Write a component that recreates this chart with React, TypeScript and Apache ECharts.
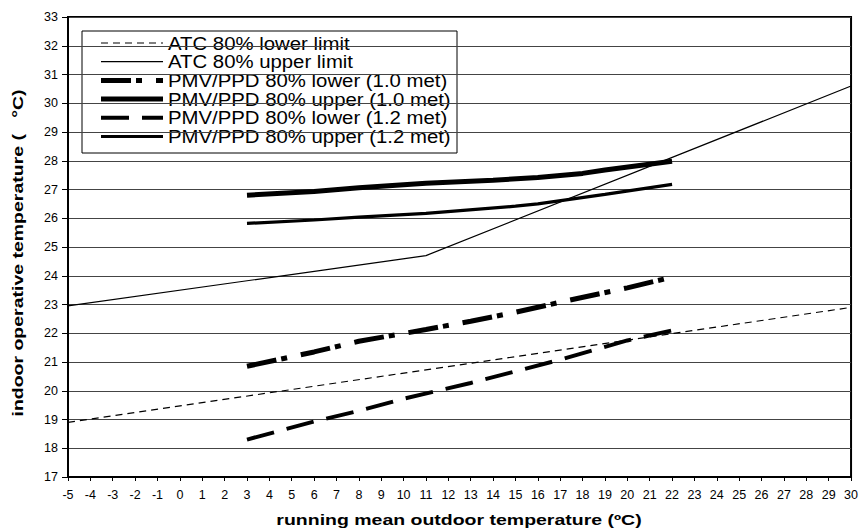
import React, { useEffect, useRef } from "react";
import * as echarts from "echarts";

const FONT = 'Arial, "Liberation Sans", sans-serif';

const seriesNames = [
  "ATC 80% lower limit",
  "ATC 80% upper limit",
  "PMV/PPD 80% lower (1.0 met)",
  "PMV/PPD 80% upper (1.0 met)",
  "PMV/PPD 80% lower (1.2 met)",
  "PMV/PPD 80% upper (1.2 met)",
];

const xTitle = "running mean outdoor temperature (ºC)";
const yTitle = "indoor operative temperature (   °C)";

const atcLowerX = [-5, 30];
const atcLowerY = [18.9, 22.9];
const atcUpperX = [-5, 11, 30];
const atcUpperY = [22.95, 24.7, 30.6];
const pmvLower10X = [3, 6, 8, 11, 13, 15, 17, 20, 22];
const pmvLower10Y = [20.85, 21.35, 21.72, 22.13, 22.42, 22.73, 23.08, 23.58, 23.95];
const pmvUpper10X = [3, 6, 8, 11, 14, 16, 18, 19, 22];
const pmvUpper10Y = [26.8, 26.93, 27.06, 27.22, 27.32, 27.42, 27.56, 27.68, 27.98];
const pmvLower12X = [3, 6, 8, 10, 13, 17, 20, 22];
const pmvLower12Y = [18.3, 18.93, 19.3, 19.72, 20.27, 21.08, 21.75, 22.1];
const pmvUpper12X = [3, 6, 8, 11, 15, 16, 19, 22];
const pmvUpper12Y = [25.82, 25.94, 26.04, 26.17, 26.42, 26.5, 26.83, 27.18];

const xs = [atcLowerX, atcUpperX, pmvLower10X, pmvUpper10X, pmvLower12X, pmvUpper12X];
const ys = [atcLowerY, atcUpperY, pmvLower10Y, pmvUpper10Y, pmvLower12Y, pmvUpper12Y];

const lineStyles: any[] = [
  { width: 1.2, type: [7, 5] },
  { width: 1.2, type: "solid" },
  { width: 5, type: [30, 5, 6, 14] },
  { width: 5, type: "solid" },
  { width: 4, type: [28, 13] },
  { width: 3.2, type: "solid" },
];

export default function App() {
  const ref = useRef<HTMLDivElement>(null);
  useEffect(() => {
    if (!ref.current) return;
    const chart = echarts.init(ref.current, null, { renderer: "svg" });

    const series = seriesNames.map((name, i) => ({
      name,
      type: "line",
      data: xs[i].map((x, j) => [x, ys[i][j]]),
      showSymbol: false,
      symbol: "none",
      smooth: false,
      lineStyle: { color: "#000", width: lineStyles[i].width, type: lineStyles[i].type, cap: "butt" },
      z: 3,
    }));

    const legendX = 82;
    const legendY = 31;
    const rowY0 = 43;
    const rowStep = 18.7;
    const legendChildren: any[] = [
      {
        type: "rect",
        shape: { x: legendX, y: legendY, width: 375, height: 122 },
        style: { fill: "#fff", stroke: "#000", lineWidth: 1 },
      },
    ];
    seriesNames.forEach((name, i) => {
      const y = rowY0 + i * rowStep;
      legendChildren.push({
        type: "line",
        shape: { x1: 101, y1: y, x2: 163, y2: y },
        style: {
          stroke: "#000",
          lineWidth: lineStyles[i].width,
          lineDash: Array.isArray(lineStyles[i].type) ? lineStyles[i].type : null,
        },
      });
      legendChildren.push({
        type: "text",
        x: 168,
        y: y,
        scaleX: 1.1,
        style: {
          text: name,
          fontFamily: FONT,
          fontSize: 18.5,
          fill: "#000",
          verticalAlign: "middle",
          align: "left",
        },
      });
    });

    chart.setOption({
      animation: false,
      backgroundColor: "#fff",
      grid: {
        left: 68,
        right: 8,
        top: 17,
        bottom: 54,
        show: true,
        borderColor: "#000",
        borderWidth: 2,
        backgroundColor: "transparent",
      },
      xAxis: {
        type: "value",
        min: -5,
        max: 30,
        interval: 1,
        axisLine: { show: true, onZero: false, lineStyle: { color: "#000", width: 2 } },
        axisTick: { show: true, length: 4, lineStyle: { color: "#000" } },
        axisLabel: { fontFamily: FONT, fontSize: 12.5, color: "#000", margin: 11 },
        splitLine: { show: false },
      },
      yAxis: {
        type: "value",
        min: 17,
        max: 33,
        interval: 1,
        axisLine: { show: true, onZero: false, lineStyle: { color: "#000", width: 2 } },
        axisTick: { show: true, length: 6, lineStyle: { color: "#000" } },
        axisLabel: { fontFamily: FONT, fontSize: 12.5, color: "#000", margin: 10 },
        splitLine: { show: true, lineStyle: { color: "#444", width: 1 } },
      },
      series,
      graphic: [
        { type: "group", z: 100, children: legendChildren },
        {
          type: "text",
          x: 459,
          y: 520,
          scaleX: 1.3,
          style: {
            text: xTitle,
            fontFamily: FONT,
            fontSize: 15,
            fontWeight: "bold",
            fill: "#000",
            align: "center",
            verticalAlign: "middle",
          },
        },
        {
          type: "text",
          x: 18,
          y: 253,
          rotation: Math.PI / 2,
          scaleX: 1.3,
          style: {
            text: yTitle,
            fontFamily: FONT,
            fontSize: 15,
            fontWeight: "bold",
            fill: "#000",
            align: "center",
            verticalAlign: "middle",
          },
        },
      ],
    });

    return () => chart.dispose();
  }, []);

  return (
    <div
      ref={ref}
      style={{ position: "fixed", left: 0, top: 0, width: 861, height: 531, background: "#fff" }}
    />
  );
}
